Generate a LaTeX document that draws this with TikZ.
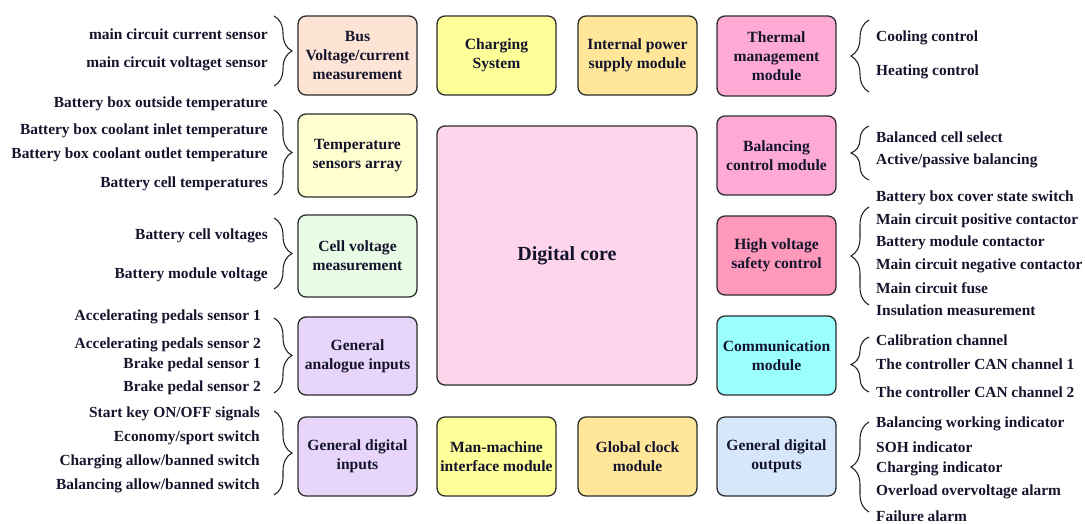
\documentclass[tikz,border=0pt]{standalone}
\usepackage{fontspec}
\setmainfont{Liberation Serif}
\usetikzlibrary{decorations.pathreplacing}
\definecolor{txt}{RGB}{20,20,45}
\definecolor{edge}{RGB}{45,45,45}
\definecolor{cbus}{HTML}{FDE4D4}
\definecolor{ctemp}{HTML}{FFFFD1}
\definecolor{ccell}{HTML}{E9FCE6}
\definecolor{cana}{HTML}{E8D6FA}
\definecolor{cchg}{HTML}{FFFF99}
\definecolor{cips}{HTML}{FFE699}
\definecolor{ccore}{HTML}{FFD5EC}
\definecolor{ctherm}{HTML}{FFAAD5}
\definecolor{chv}{HTML}{FF99BB}
\definecolor{ccomm}{HTML}{99FFFF}
\definecolor{cout}{HTML}{D6E7FA}
\begin{document}
\begin{tikzpicture}[x=1pt,y=-1pt,
  box/.style={draw=edge, line width=1.3pt, rounded corners=8pt, minimum width=119pt, minimum height=79pt, align=center, text=txt, font=\fontsize{15.6}{19}\selectfont\bfseries, inner sep=2pt},
  lt/.style={anchor=east, inner sep=0pt, text=txt, font=\fontsize{15.4}{18}\selectfont\bfseries},
  rt/.style={anchor=west, inner sep=0pt, text=txt, font=\fontsize{15.4}{18}\selectfont\bfseries},
  brc/.style={draw=black!85, line width=1.1pt, decorate, decoration={brace, amplitude=18pt, aspect=0.5}}]
\useasboundingbox (0,0) rectangle (1085,523);
% boxes
\node[box, fill=cbus] (bus) at (357.5,55.5) {Bus\\Voltage/current\\measurement};
\node[box, fill=ctemp, minimum height=83pt] (temp) at (357.5,155.5) {Temperature\\sensors array};
\node[box, fill=ccell, minimum height=82pt] (cell) at (357.5,256) {Cell voltage\\measurement};
\node[box, fill=cana, minimum height=78pt] (ana) at (357.5,356) {General\\analogue inputs};
\node[box, fill=cana] (din) at (357.5,456.5) {General digital\\inputs};
\node[box, fill=cchg] (chg) at (496.5,55.5) {Charging\\System};
\node[box, fill=cchg] (mmi) at (496.5,456.5) {Man-machine\\interface module};
\node[box, fill=cips] (ips) at (637.5,55.5) {Internal power\\supply module};
\node[box, fill=cips] (clk) at (637.5,456.5) {Global clock\\module};
\node[box, fill=ccore, minimum width=260pt, minimum height=259pt, font=\fontsize{20}{23}\selectfont\bfseries] (core) at (567,255.5) {Digital core};
\node[box, fill=ctherm, minimum height=80pt] (therm) at (776.5,56) {Thermal\\management\\module};
\node[box, fill=ctherm] (bal) at (776.5,155.5) {Balancing\\control module};
\node[box, fill=chv] (hv) at (776.5,255.5) {High voltage\\safety control};
\node[box, fill=ccomm] (comm) at (776.5,355.5) {Communication\\module};
\node[box, fill=cout] (dout) at (776.5,456.5) {General digital\\outputs};
% left braces
\coordinate (b1t) at (274,16); \coordinate (b1b) at (274,86);
\coordinate (b2t) at (274,110); \coordinate (b2b) at (274,195);
\coordinate (b3t) at (274,218); \coordinate (b3b) at (274,289);
\coordinate (b4t) at (274,318); \coordinate (b4b) at (274,393);
\coordinate (b5t) at (274,411); \coordinate (b5b) at (274,495);
\draw[brc] (b1t) -- (b1b);
\draw[brc] (b2t) -- (b2b);
\draw[brc] (b3t) -- (b3b);
\draw[brc] (b4t) -- (b4b);
\draw[brc] (b5t) -- (b5b);
% right braces
\coordinate (r1t) at (869,20); \coordinate (r1b) at (869,92);
\coordinate (r2t) at (869,126); \coordinate (r2b) at (869,180);
\coordinate (r3t) at (869,207); \coordinate (r3b) at (869,305);
\coordinate (r4t) at (869,337); \coordinate (r4b) at (869,392);
\coordinate (r5t) at (869,422); \coordinate (r5b) at (869,512);
\draw[brc] (r1b) -- (r1t);
\draw[brc] (r2b) -- (r2t);
\draw[brc] (r3b) -- (r3t);
\draw[brc] (r4b) -- (r4t);
\draw[brc] (r5b) -- (r5t);
% left texts
\node[lt] (t11) at (268,34) {main circuit current sensor};
\node[lt] (t12) at (268,64) {main circuit voltaget sensor};
\node[lt] (t21) at (268,104) {Battery box outside temperature};
\node[lt] (t22) at (268,131) {Battery box coolant inlet temperature};
\node[lt] (t23) at (268,155) {Battery box coolant outlet temperature};
\node[lt] (t24) at (268,184) {Battery cell temperatures};
\node[lt] (t31) at (268,236) {Battery cell voltages};
\node[lt] (t32) at (268,275) {Battery module voltage};
\node[lt] (t41) at (261,317) {Accelerating pedals sensor 1};
\node[lt] (t42) at (261,345) {Accelerating pedals sensor 2};
\node[lt] (t43) at (261,365) {Brake pedal sensor 1};
\node[lt] (t44) at (261,388) {Brake pedal sensor 2};
\node[lt] (t51) at (260,414) {Start key ON/OFF signals};
\node[lt] (t52) at (260,438) {Economy/sport switch};
\node[lt] (t53) at (260,462) {Charging allow/banned switch};
\node[lt] (t54) at (260,486) {Balancing allow/banned switch};
% right texts
\node[rt] (s11) at (876,38) {Cooling control};
\node[rt] (s12) at (876,72) {Heating control};
\node[rt] (s21) at (876,137) {Balanced cell select};
\node[rt] (s22) at (876,161) {Active/passive balancing};
\node[rt] (s31) at (876,198) {Battery box cover state switch};
\node[rt] (s32) at (876,221) {Main circuit positive contactor};
\node[rt] (s33) at (876,243) {Battery module contactor};
\node[rt] (s34) at (876,266) {Main circuit negative contactor};
\node[rt] (s35) at (876,288) {Main circuit fuse};
\node[rt] (s36) at (876,310) {Insulation measurement};
\node[rt] (s41) at (876,340) {Calibration channel};
\node[rt] (s42) at (876,364) {The controller CAN channel 1};
\node[rt] (s43) at (876,392) {The controller CAN channel 2};
\node[rt] (s51) at (876,424) {Balancing working indicator};
\node[rt] (s52) at (876,447) {SOH indicator};
\node[rt] (s53) at (876,469) {Charging indicator};
\node[rt] (s54) at (876,492) {Overload overvoltage alarm};
\node[rt] (s55) at (876,516) {Failure alarm};
\end{tikzpicture}
\end{document}
